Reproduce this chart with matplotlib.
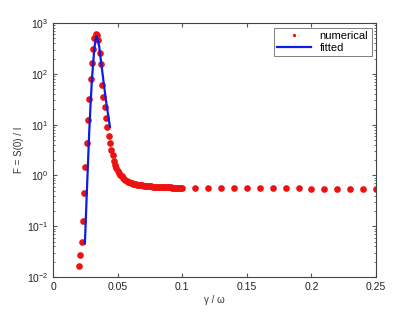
import matplotlib
matplotlib.use("Agg")
import matplotlib.pyplot as plt

plt.rcParams["font.family"] = ["Liberation Sans", "DejaVu Sans"]
plt.rcParams["mathtext.fontset"] = "custom"
plt.rcParams["mathtext.rm"] = "Liberation Sans"

# numerical points: peak region
peak_x = [0.020, 0.021, 0.022, 0.023, 0.024, 0.025, 0.026, 0.027, 0.028, 0.029,
          0.030, 0.031, 0.032, 0.033, 0.034, 0.035, 0.036, 0.037, 0.038, 0.039,
          0.040, 0.041, 0.042, 0.043, 0.044, 0.045, 0.046, 0.047]
peak_y = [0.0166, 0.027, 0.049, 0.126, 0.46, 1.48, 4.4, 12.3, 32, 80,
          166, 316, 500, 607, 580, 460, 253, 160, 60, 35,
          22, 13.8, 9.1, 6.0, 4.3, 3.16, 2.5, 1.9]

# numerical points: dense tail
tail_x = [0.048, 0.049, 0.050, 0.051, 0.052, 0.053, 0.054, 0.055, 0.056, 0.057,
          0.058, 0.059, 0.060, 0.061, 0.062, 0.063, 0.064, 0.065, 0.066, 0.067,
          0.068, 0.069, 0.070, 0.071, 0.072, 0.073, 0.074, 0.075, 0.076, 0.077,
          0.078, 0.079, 0.080, 0.081, 0.082, 0.083, 0.084, 0.085, 0.086, 0.087,
          0.088, 0.089, 0.090, 0.091, 0.092, 0.093, 0.094, 0.095, 0.096, 0.097,
          0.098, 0.099, 0.100]
tail_y = [1.6, 1.4, 1.25, 1.13, 1.04, 0.97, 0.91, 0.86, 0.82, 0.79,
          0.76, 0.74, 0.72, 0.705, 0.69, 0.68, 0.67, 0.66, 0.653, 0.646,
          0.64, 0.635, 0.63, 0.626, 0.622, 0.618, 0.615, 0.612, 0.609, 0.606,
          0.603, 0.601, 0.599, 0.597, 0.595, 0.593, 0.591, 0.589, 0.587, 0.585,
          0.583, 0.582, 0.581, 0.580, 0.579, 0.578, 0.577, 0.576, 0.575, 0.574,
          0.573, 0.572, 0.571]

# numerical points: sparse tail
sparse_x = [0.11, 0.12, 0.13, 0.14, 0.15, 0.16, 0.17, 0.18, 0.19, 0.20,
            0.21, 0.22, 0.23, 0.24, 0.25]
sparse_y = [0.57, 0.568, 0.566, 0.564, 0.562, 0.56, 0.558, 0.556, 0.554, 0.552,
            0.55, 0.548, 0.546, 0.544, 0.542]

# fitted curve
fit_x = [0.0246, 0.0260, 0.0274, 0.0279, 0.0290, 0.0300, 0.0318, 0.0328, 0.0336,
         0.0345, 0.0357, 0.0382, 0.0409, 0.0440]
fit_y = [0.046, 0.4, 3.16, 6.8, 25, 75, 295, 470, 550, 480, 342, 104, 30, 9.1]

num_x = peak_x + tail_x + sparse_x
num_y = peak_y + tail_y + sparse_y

fig = plt.figure(figsize=(4.15, 3.12), dpi=100)
ax = fig.add_axes([0.128, 0.112, 0.778, 0.814])

ax.plot(num_x, num_y, "o", color="#ee1111", markersize=4.8, markeredgewidth=0,
        label="numerical")
ax.plot(fit_x, fit_y, "-", color="#0a1ee6", linewidth=1.6, label="fitted")

ax.set_yscale("log")
ax.set_xlim(0, 0.25)
ax.set_ylim(1e-2, 1e3)
ax.set_xticks([0, 0.05, 0.1, 0.15, 0.2, 0.25])
ax.set_xticklabels(["0", "0.05", "0.1", "0.15", "0.2", "0.25"])

ax.tick_params(which="both", direction="in", labelsize=7.5, top=True, right=True,
               color="#555555", labelcolor="#222222")
ax.tick_params(which="major", length=3)
ax.tick_params(which="minor", length=1.5)
for s in ax.spines.values():
    s.set_color("#444444")
    s.set_linewidth(0.8)

ax.set_xlabel("γ / ω", fontsize=7, labelpad=2, color="#333333")
ax.set_ylabel("F = S(0) / I", fontsize=7, labelpad=2, color="#333333")

leg = ax.legend(loc="upper right", fontsize=8, frameon=True, fancybox=False,
                edgecolor="#444444", borderaxespad=0.4, handlelength=3.0,
                labelspacing=0.15, borderpad=0.3, numpoints=1, markerscale=0.5)
leg.get_frame().set_linewidth(0.6)

fig.savefig("out.png", dpi=100)
